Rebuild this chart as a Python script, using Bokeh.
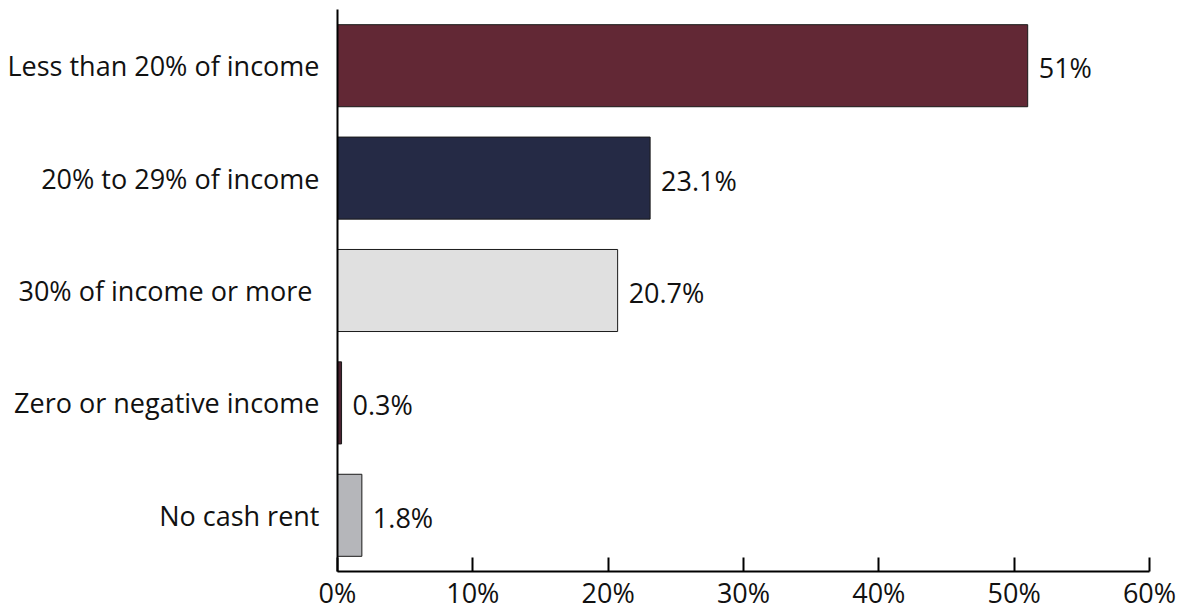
from bokeh.plotting import figure
from bokeh.models import ColumnDataSource, Range1d, FactorRange, FixedTicker, PrintfTickFormatter
from bokeh.core.properties import value
from bokeh.embed import file_html
from bokeh.resources import INLINE

categories = ["Less than 20% of income", "20% to 29% of income", "30% of income or more ",
              "Zero or negative income", "No cash rent"]
shares = [51.0, 23.1, 20.7, 0.3, 1.8]
labels = ["51%", "23.1%", "20.7%", "0.3%", "1.8%"]
colors = ["#622835", "#252a45", "#e0e0e0", "#4a2330", "#b5b6ba"]
x_ticks = [0, 10, 20, 30, 40, 50, 60]

FONT = "Open Sans"
FS = "27px"

src = ColumnDataSource(dict(cat=categories, val=shares, lab=labels, col=colors))

p = figure(width=1179, height=613, output_backend="svg", toolbar_location=None,
           x_range=Range1d(0, 60), y_range=FactorRange(factors=categories[::-1]),
           min_border_left=337, min_border_right=30, min_border_top=9, min_border_bottom=41)

p.hbar(y="cat", right="val", left=0, height=0.73, fill_color="col",
       line_color="#1a1a1a", line_width=1, source=src)

p.text(x="val", y="cat", text="lab", source=src, x_offset=11, y_offset=2,
       text_font=value(FONT), text_font_size=FS, text_color="#111111",
       text_baseline="middle", text_align="left")

p.outline_line_color = None
p.grid.grid_line_color = None
p.background_fill_color = "white"

xa = p.xaxis[0]
xa.ticker = FixedTicker(ticks=x_ticks)
xa.formatter = PrintfTickFormatter(format="%d%%")
xa.axis_line_width = 2
xa.axis_line_color = "black"
xa.major_tick_in = 14
xa.major_tick_out = 0
xa.major_tick_line_width = 2
xa.minor_tick_line_color = None
xa.major_label_text_font = FONT
xa.major_label_text_font_size = FS
xa.major_label_text_color = "#111111"
xa.major_label_standoff = 2

ya = p.yaxis[0]
ya.axis_line_width = 2
ya.axis_line_color = "black"
ya.major_tick_line_color = None
ya.minor_tick_line_color = None
ya.major_label_text_font = FONT
ya.major_label_text_font_size = FS
ya.major_label_text_color = "#111111"
ya.major_label_standoff = 12

open("out.html", "w").write(file_html(p, INLINE))
